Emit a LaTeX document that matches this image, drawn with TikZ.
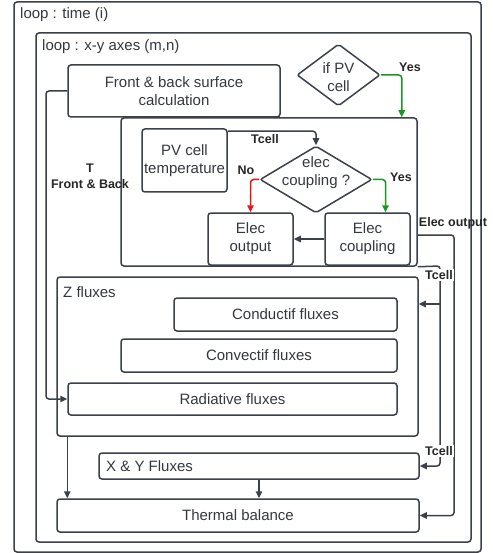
\documentclass[tikz,border=0pt]{standalone}
\usepackage{fontspec}
\setmainfont{Liberation Sans}
\usetikzlibrary{shapes.geometric,arrows.meta}
\definecolor{linec}{RGB}{59,65,74}
\definecolor{textc}{RGB}{52,56,62}
\definecolor{yesc}{RGB}{25,150,35}
\definecolor{noc}{RGB}{232,22,22}
\tikzset{
  box/.style={draw=linec, line width=1.5pt, rounded corners=3pt, inner sep=0pt,
    align=center, text=textc, font=\fontsize{15}{18}\selectfont},
  cond/.style={box, diamond, rounded corners=2pt},
  txt/.style={inner sep=0pt, align=center, text=textc, font=\fontsize{15}{18}\selectfont},
  lbl/.style={inner sep=1pt, align=center, text=black!85, font=\fontsize{12.5}{16}\selectfont\bfseries},
  arr/.style={draw=linec, line width=1.5pt, rounded corners=3pt, -{Triangle[length=7pt,width=6.5pt]}}
}
\begin{document}
\begin{tikzpicture}[x=1pt,y=-1pt]
        \useasboundingbox (0,0) rectangle (492,553);
        % loops
        \node[box, minimum width=467pt, minimum height=550pt] (tloop) at (247.5,277) {};
        \node[box, minimum width=435pt, minimum height=509pt] (xyloop) at (253.5,287.5) {};
        \node[txt, anchor=west] (tloopt) at (20,15) {loop : time (i)};
        \node[txt, anchor=west] (xyloopt) at (42,47) {loop : x-y axes (m,n)};
        % surface and PV cell part
        \node[box, minimum width=212pt, minimum height=52pt] (fb) at (174,91) {Front \& back surface\\calculation};
        \node[cond, minimum width=83pt, minimum height=62pt] (ifpv) at (338.5,75) {};
        \node[txt] (ifpvt) at (338.5,77) {if PV\\cell};
        \node[box, minimum width=296pt, minimum height=148pt] (pvblk) at (269,192) {};
        \node[box, minimum width=85pt, minimum height=63pt] (pvtemp) at (184.5,160.5) {PV cell\\temperature};
        \node[cond, minimum width=112pt, minimum height=67pt] (coupq) at (316,179.5) {};
        \node[txt] (coupqt) at (316,173) {elec\\coupling ?};
        \node[box, minimum width=85pt, minimum height=52pt] (eout) at (250.5,239) {Elec\\output};
        \node[box, minimum width=85pt, minimum height=52pt] (ecoup) at (367.5,239) {Elec\\coupling};
        % fluxes
        \node[box, minimum width=361pt, minimum height=159pt] (zflux) at (237.5,356.5) {};
        \node[txt, anchor=west] (zfluxt) at (63,292) {Z fluxes};
        \node[box, minimum width=223pt, minimum height=33pt] (cond) at (285.5,314.5) {Conductif fluxes};
        \node[box, minimum width=276pt, minimum height=33pt] (conv) at (259,355.5) {Convectif fluxes};
        \node[box, minimum width=329pt, minimum height=32pt] (rad) at (232.5,399) {Radiative fluxes};
        \node[box, minimum width=320pt, minimum height=26pt] (xy) at (259,466) {};
        \node[txt, anchor=west] (xyt) at (106,466) {X \& Y Fluxes};
        \node[box, minimum width=362pt, minimum height=33pt] (therm) at (238,515.5) {Thermal balance};
        % connectors
        \coordinate (fbl) at (46,91);
        \coordinate (eo) at (454,235);
        \coordinate (tc) at (440,266);
        \coordinate (tb) at (440,304);
        \draw[arr, draw=yesc] (ifpv.east) -| ([xshift=-16pt]pvblk.north east);
        \draw[arr] ([yshift=-3pt]pvtemp.north east) -| (coupq.north);
        \draw[arr, draw=noc] (coupq.west) -| (eout.north);
        \draw[arr, draw=yesc] (coupq.east) -| ([xshift=18pt]ecoup.north);
        \draw[arr] (ecoup.west) -- (eout.east);
        \draw[arr] (fb.west) -- (fbl) |- (rad.west);
        \draw[arr] (pvblk.east |- eo) -- (eo) |- (therm.east);
        \draw[arr] (pvblk.south east) -- (tc) |- (xy.east);
        \draw[arr] (tb) -- (tb -| zflux.east);
        \draw[arr] (zflux.south -| rad.west) -- (therm.north -| rad.west);
        \draw[arr] (xy.south) -- (xy.south |- therm.north);
        % labels
        \node[lbl] (yes1) at (410,67) {Yes};
        \node[lbl] (tcell1) at (265,139) {Tcell};
        \node[lbl] (no) at (246,170) {No};
        \node[lbl] (yes2) at (401,177) {Yes};
        \node[lbl] (fbback) at (90,176) {T\\Front \& Back};
        \node[lbl] (eolbl) at (453,223) {Elec output};
        \node[lbl, fill=white] (tcell2) at (439,275) {Tcell};
        \node[lbl, fill=white] (tcell3) at (439,451) {Tcell};
\end{tikzpicture}
\end{document}
